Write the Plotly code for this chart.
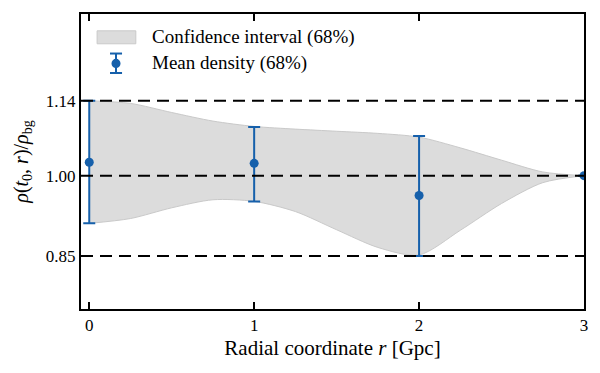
import plotly.graph_objects as go

# Data
band_r = [0, 0.25, 0.5, 0.75, 1, 1.25, 1.5, 1.75, 2, 2.25, 2.5, 2.75, 3]
band_upper = [1.140, 1.135, 1.118, 1.102, 1.092, 1.087, 1.083, 1.079, 1.072, 1.052, 1.029, 1.007, 1.000]
band_lower = [0.911, 0.920, 0.940, 0.955, 0.952, 0.933, 0.899, 0.866, 0.852, 0.898, 0.948, 0.987, 1.000]

mean_r = [0, 1, 2, 3]
mean_rho = [1.025, 1.023, 0.963, 1.000]
err_hi = [1.140, 1.091, 1.074, 1.000]
err_lo = [0.911, 0.952, 0.850, 1.000]

ref_levels = [1.14, 1.00, 0.85]
y_ticks = [0.85, 1.00, 1.14]
y_ticktext = ["0.85", "1.00", "1.14"]
x_ticks = [0, 1, 2, 3]
legend_labels = ["Confidence interval (68%)", "Mean density (68%)"]

FONT = "Times New Roman, Liberation Serif, DejaVu Serif, serif"
BLUE = "#1660ab"
GRAY = "#dcdcdc"

fig = go.Figure()
fig.add_trace(go.Scatter(x=band_r, y=band_lower, mode="lines",
                         line=dict(color="#c9c9c9", width=1, shape="spline", smoothing=0.8),
                         showlegend=False, hoverinfo="skip"))
fig.add_trace(go.Scatter(x=band_r, y=band_upper, mode="lines", fill="tonexty", fillcolor=GRAY,
                         line=dict(color="#c9c9c9", width=1, shape="spline", smoothing=0.8),
                         name=legend_labels[0], showlegend=False))

for lv in ref_levels:
    fig.add_shape(type="line", xref="x domain", x0=0, x1=1, yref="y", y0=lv, y1=lv,
                  line=dict(color="black", width=2, dash="12px,7px"), layer="above")

fig.add_trace(go.Scatter(
    x=mean_r, y=mean_rho, mode="markers",
    marker=dict(color=BLUE, size=9),
    error_y=dict(type="data", symmetric=False,
                 array=[h - m for h, m in zip(err_hi, mean_rho)],
                 arrayminus=[m - l for l, m in zip(err_lo, mean_rho)],
                 color=BLUE, thickness=2, width=6),
    name=legend_labels[1], showlegend=False))

# Hand-drawn legend (fractions of the plot area)
fig.add_shape(type="rect", xref="x domain", yref="y domain", x0=0.032, x1=0.109, y0=0.899, y1=0.943,
              fillcolor=GRAY, line=dict(color="#c9c9c9", width=1))
fig.add_shape(type="line", xref="x domain", yref="y domain", x0=0.0696, x1=0.0696, y0=0.800, y1=0.866,
              line=dict(color=BLUE, width=2))
for yy in (0.800, 0.866):
    fig.add_shape(type="line", xref="x domain", yref="y domain", x0=0.0576, x1=0.0816, y0=yy, y1=yy,
                  line=dict(color=BLUE, width=2))
fig.add_shape(type="circle", xref="x domain", yref="y domain", x0=0.0606, x1=0.0786, y0=0.817, y1=0.848,
              fillcolor=BLUE, line=dict(color=BLUE, width=0))
for txt, yy in zip(legend_labels, (0.921, 0.833)):
    fig.add_annotation(text=txt, xref="x domain", yref="y domain", x=0.137, y=yy,
                       xanchor="left", yanchor="middle", showarrow=False,
                       font=dict(family=FONT, size=19, color="black"))

fig.update_layout(
    width=600, height=373,
    margin=dict(l=81, r=16, t=12, b=64),
    plot_bgcolor="white", paper_bgcolor="white",
    font=dict(family=FONT, size=17, color="black"),
    showlegend=False,
    xaxis=dict(range=[-0.05, 3], tickvals=x_ticks, ticks="inside", ticklen=7, tickwidth=1.5,
               tickcolor="black", showline=True, linecolor="black", linewidth=2, mirror="ticks",
               showgrid=False, zeroline=False,
               title=dict(text="Radial coordinate <i>r</i> [Gpc]", font=dict(family=FONT, size=21), standoff=6),
               tickfont=dict(family=FONT, size=17)),
    yaxis=dict(range=[0.751, 1.302], tickvals=y_ticks, ticktext=y_ticktext, ticks="inside", ticklen=0,
               showline=True, linecolor="black", linewidth=2, mirror=True,
               showgrid=False, zeroline=False,
               title=dict(text="<i>ρ</i>(<i>t</i><sub>0</sub>, <i>r</i>)/<i>ρ</i><sub>bg</sub>",
                          font=dict(family=FONT, size=20), standoff=12),
               tickfont=dict(family=FONT, size=17)),
)

fig.write_html("out.html", post_script="document.body.style.margin='0';",
               config={"displayModeBar": False})
